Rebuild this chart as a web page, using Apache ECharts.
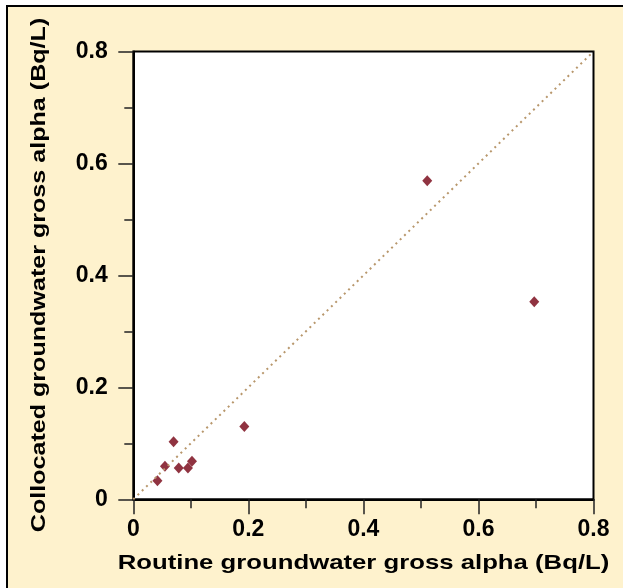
<!DOCTYPE html>
<html>
<head>
<meta charset="utf-8">
<script src="https://cdn.jsdelivr.net/npm/echarts@6/dist/echarts.min.js"></script>
<style>html,body{margin:0;padding:0;background:#fff;}#c{width:623px;height:588px;}</style>
</head>
<body>
<div id="c"></div>
<script>
const routine = [0.042, 0.055, 0.070, 0.079, 0.095, 0.102, 0.193, 0.511, 0.697];
const collocated = [0.033, 0.059, 0.103, 0.056, 0.056, 0.068, 0.130, 0.569, 0.353];
const lineX = [0, 0.8];
const lineY = [0, 0.8];
const xTitle = 'Routine groundwater gross alpha (Bq/L)';
const yTitle = 'Collocated groundwater gross alpha (Bq/L)';

const pts = routine.map((x, i) => [x, collocated[i]]);
const diag = lineX.map((x, i) => [x, lineY[i]]);
const font = '"Liberation Sans", Arial, Helvetica, sans-serif';

const chart = echarts.init(document.getElementById('c'), null, {renderer: 'canvas'});
const axisCommon = {
  min: 0, max: 0.8, interval: 0.2,
  axisLine: {show: true, onZero: false, lineStyle: {color: '#000', width: 2}},
  axisTick: {show: true, inside: false, length: 15, lineStyle: {color: '#222', width: 1.5}},
  minorTick: {show: true, splitNumber: 2, length: 9, lineStyle: {color: '#222', width: 1.5}},
  splitLine: {show: false},
  axisLabel: {color: '#000', fontWeight: 'bold', fontSize: 23, fontFamily: font,
    formatter: v => v === 0 ? '0' : v.toFixed(1)}
};
chart.setOption({
  backgroundColor: '#fff',
  animation: false,
  graphic: [{
    type: 'rect', z: -10, silent: true,
    shape: {x: 7, y: 6, width: 700, height: 700},
    style: {fill: '#FEF2CD', stroke: '#000', lineWidth: 2}
  }, {
    type: 'text', silent: true, x: 363.5, y: 563, scaleX: 1.225,
    style: {text: xTitle, fill: '#000', font: 'bold 21px ' + font,
      textAlign: 'center', textVerticalAlign: 'middle'}
  }, {
    type: 'text', silent: true, x: 39, y: 275, rotation: Math.PI / 2, scaleX: 1.195,
    style: {text: yTitle, fill: '#000', font: 'bold 21px ' + font,
      textAlign: 'center', textVerticalAlign: 'middle'}
  }],
  grid: {left: 133.3, top: 51.5, right: 29.5, bottom: 88.7, show: true,
    backgroundColor: '#fff', borderColor: '#000', borderWidth: 2},
  xAxis: Object.assign({}, axisCommon, {
    type: 'value',
    axisLabel: Object.assign({}, axisCommon.axisLabel, {margin: 19})
  }),
  yAxis: Object.assign({}, axisCommon, {
    type: 'value',
    axisLabel: Object.assign({}, axisCommon.axisLabel, {margin: 25.5})
  }),
  series: [{
    type: 'line', data: diag, symbol: 'none', silent: true,
    lineStyle: {color: '#B8976C', width: 2, type: [2, 4]}
  }, {
    type: 'scatter', data: pts, symbol: 'diamond', symbolSize: [10, 11],
    itemStyle: {color: '#740012'}
  }]
});
</script>
</body>
</html>
